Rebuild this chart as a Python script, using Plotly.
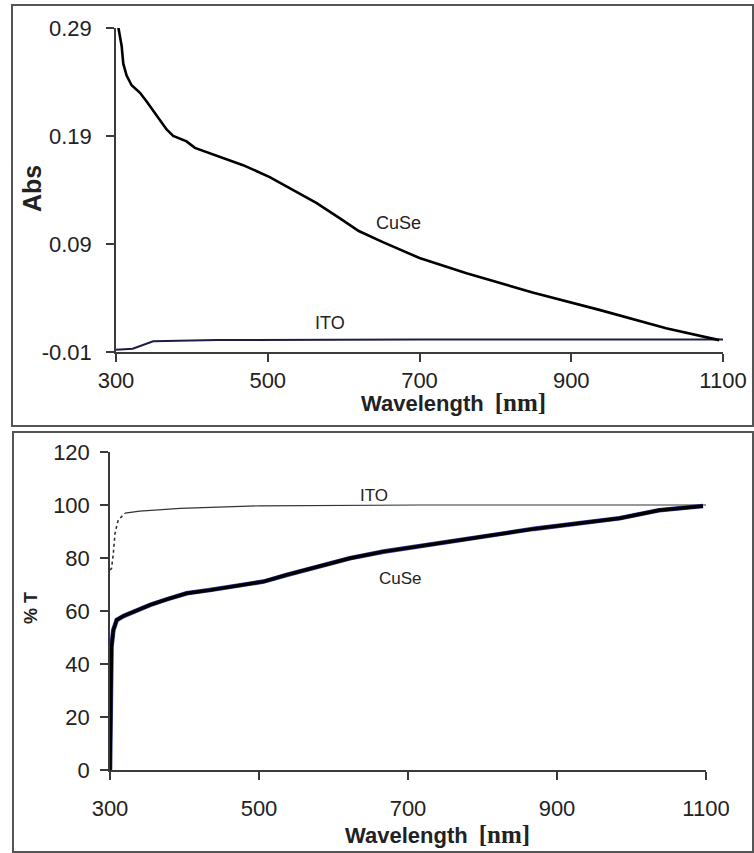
import plotly.graph_objects as go

# ---- data ----
abs_cuse_nm = [303, 307.5, 309.6, 314, 320.6, 331.6, 340.4, 351.3, 360, 366.7, 375.4, 393, 404, 432.5,
               467.5, 502.6, 533, 564, 594.7, 620, 651, 700, 762, 849, 937, 1025, 1095]
abs_cuse = [0.291, 0.273, 0.257, 0.246, 0.237, 0.230, 0.222, 0.211, 0.203, 0.196, 0.190, 0.185, 0.179,
            0.172, 0.163, 0.152, 0.140, 0.128, 0.114, 0.102, 0.092, 0.077, 0.063, 0.045, 0.029, 0.012,
            0.001]
abs_ito_nm = [300, 322, 349, 433, 700, 1100]
abs_ito = [-0.008, -0.007, 0.0, 0.001, 0.0015, 0.0015]

t_cuse_nm = [300, 300.5, 301, 301.5, 302, 304.5, 309, 318, 331, 354, 376, 403, 434, 465.5, 506, 537,
             577.5, 622, 667, 712, 753, 869, 984, 1037, 1096]
t_cuse = [0, 10, 25, 40, 46.5, 52.8, 56.6, 58.1, 59.7, 62.3, 64.4, 66.7, 67.9, 69.2, 71.1, 73.6, 76.7,
          79.9, 82.4, 84.3, 86, 91, 95, 98, 99.6]
t_ito_nm = [300, 302, 304.5, 306.7, 311, 320, 340, 394, 501, 716, 1100]
t_ito = [75.5, 76, 81.8, 89.3, 94.3, 96.9, 97.7, 98.7, 99.7, 100, 100]

x_ticks = [300, 500, 700, 900, 1100]
abs_ticks = [-0.01, 0.09, 0.19, 0.29]
abs_tick_text = ["-0.01", "0.09", "0.19", "0.29"]
t_ticks = [0, 20, 40, 60, 80, 100, 120]

W, H = 754, 853
FONT = "Liberation Sans, Arial, sans-serif"
SERIF = "Liberation Serif, Times New Roman, serif"
TXT = "#222222"
AX = "#3a3a3a"


def xd(a, b):
    return [a / W, b / W]


def yd(top, bottom):
    return [1 - bottom / H, 1 - top / H]


fig = go.Figure()

# top panel: absorbance
fig.add_trace(go.Scatter(x=abs_ito_nm, y=abs_ito, mode="lines", line=dict(color="#1c1c4a", width=2),
                         xaxis="x", yaxis="y", showlegend=False))
fig.add_trace(go.Scatter(x=abs_cuse_nm, y=abs_cuse, mode="lines", line=dict(color="#000000", width=2.6),
                         xaxis="x", yaxis="y", showlegend=False))

# bottom panel: transmittance
fig.add_trace(go.Scatter(x=t_ito_nm[:6], y=t_ito[:6], mode="lines",
                         line=dict(color="#333333", width=1.6, dash="dot"),
                         xaxis="x2", yaxis="y2", showlegend=False))
fig.add_trace(go.Scatter(x=t_ito_nm[5:], y=t_ito[5:], mode="lines", line=dict(color="#333333", width=1.2),
                         xaxis="x2", yaxis="y2", showlegend=False))
fig.add_trace(go.Scatter(x=t_cuse_nm, y=t_cuse, mode="lines", line=dict(color="#3a3aa0", width=4.6),
                         xaxis="x2", yaxis="y2", showlegend=False))
fig.add_trace(go.Scatter(x=t_cuse_nm, y=t_cuse, mode="lines", line=dict(color="#000000", width=3.4),
                         xaxis="x2", yaxis="y2", showlegend=False))

common_axis = dict(showgrid=False, zeroline=False, showline=True, linecolor=AX, linewidth=1.5,
                   ticks="outside", ticklen=8, tickwidth=1.5, tickcolor=AX, automargin=False,
                   tickfont=dict(family=FONT, size=22, color=TXT))

fig.update_layout(
    template="none",
    width=W, height=H, margin=dict(l=0, r=0, t=0, b=0, autoexpand=False),
    paper_bgcolor="white", plot_bgcolor="white",
    xaxis=dict(domain=xd(116, 723), range=[300, 1100], tickvals=x_ticks, anchor="y",
               ticklabelstandoff=0, **common_axis),
    yaxis=dict(domain=yd(28, 352), range=[-0.01, 0.29], tickvals=abs_ticks, ticktext=abs_tick_text,
               anchor="x", ticklabelstandoff=10, **common_axis),
    xaxis2=dict(domain=xd(110, 706), range=[300, 1100], tickvals=x_ticks, anchor="y2",
                ticklabelstandoff=10, **common_axis),
    yaxis2=dict(domain=yd(452, 770), range=[0, 120], tickvals=t_ticks, anchor="x2",
                ticklabelstandoff=6, **common_axis),
)

# panel borders
for (x0, y0, x1, y1) in [(12, 5, 753, 426), (13, 432, 753, 852)]:
    fig.add_shape(type="rect", xref="paper", yref="paper", x0=x0 / W, x1=x1 / W,
                  y0=1 - y1 / H, y1=1 - y0 / H, line=dict(color="#555555", width=2))


def ann(x, y, text, size, bold=False, angle=0):
    t = f"<b>{text}</b>" if bold else text
    fig.add_annotation(xref="paper", yref="paper", x=x / W, y=1 - y / H, text=t, showarrow=False,
                       xanchor="center", yanchor="middle", textangle=angle,
                       font=dict(family=FONT, size=size, color=TXT))


ann(398, 223, "CuSe", 18)
ann(330, 323, "ITO", 18)
ann(374, 495, "ITO", 17)
ann(400, 578, "CuSe", 17)
ann(32, 189, "Abs", 25, bold=True, angle=-90)
ann(31, 608, "% T", 18, bold=True, angle=-90)

nm_html = f'<span style="font-family:{SERIF};font-size:25px">[nm]</span>'
for cx, cy in [(453, 403), (437, 834)]:
    fig.add_annotation(xref="paper", yref="paper", x=cx / W, y=1 - cy / H,
                       text=f"<b>Wavelength\u2002{nm_html}</b>", showarrow=False, xanchor="center",
                       yanchor="middle", font=dict(family=FONT, size=22, color=TXT))

fig.write_html("out.html", config={"displayModeBar": False},
               post_script="document.body.style.margin='0';document.body.style.overflow='hidden';")
